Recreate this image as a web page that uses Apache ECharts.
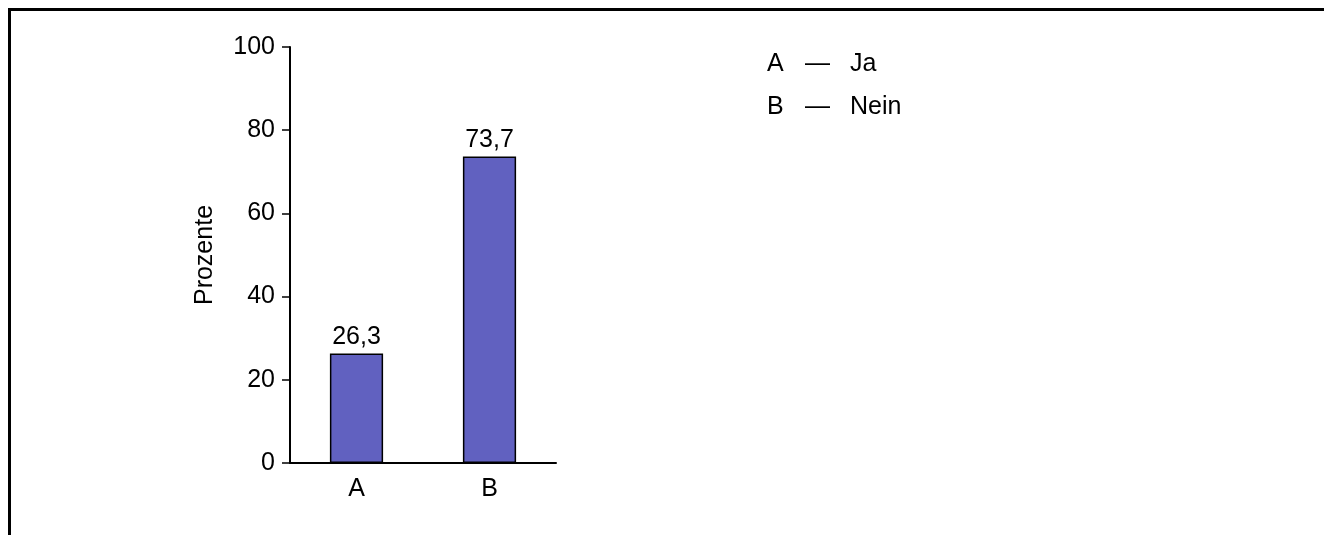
<!DOCTYPE html>
<html>
<head>
<meta charset="utf-8">
<script src="https://cdn.jsdelivr.net/npm/echarts@6/dist/echarts.min.js"></script>
<style>
  html, body { margin: 0; padding: 0; background: #ffffff; }
  #chart { width: 1324px; height: 535px; }
</style>
</head>
<body>
<div id="chart"></div>
<script>
// Answer codes, their meanings and the share of respondents (percent)
const categories = ['A', 'B'];
const meanings = ['Ja', 'Nein'];
const percents = [26.3, 73.7];
const yTicks = { min: 0, max: 100, interval: 20 };

const FONT = '"Liberation Sans", Arial, Helvetica, sans-serif';
const FS = 25;

const chart = echarts.init(document.getElementById('chart'), null, { renderer: 'canvas' });

// Key beside the plot: code — meaning
const keyItems = [];
categories.forEach((c, i) => {
  const y = 63 + i * 43;
  const base = { fontFamily: FONT, fontSize: FS, fill: '#000' };
  keyItems.push({ type: 'text', left: 767, top: y - 11, style: Object.assign({ text: c }, base) });
  keyItems.push({ type: 'text', left: 805, top: y - 11, style: Object.assign({ text: '\u2014' }, base) });
  keyItems.push({ type: 'text', left: 850, top: y - 11, style: Object.assign({ text: meanings[i] }, base) });
});

chart.setOption({
  animation: false,
  backgroundColor: '#ffffff',
  textStyle: { fontFamily: FONT, color: '#000' },
  grid: { left: 290, top: 47, width: 266, height: 416, containLabel: false },
  xAxis: {
    type: 'category',
    data: categories,
    axisLine: { show: true, lineStyle: { color: '#000', width: 2 } },
    axisTick: { show: false },
    axisLabel: { color: '#000', fontSize: FS, fontFamily: FONT, margin: 14 },
    splitLine: { show: false }
  },
  yAxis: {
    type: 'value',
    min: yTicks.min,
    max: yTicks.max,
    interval: yTicks.interval,
    name: 'Prozente',
    nameLocation: 'middle',
    nameGap: 72,
    nameTextStyle: { color: '#000', fontSize: FS, fontFamily: FONT },
    axisLine: { show: true, lineStyle: { color: '#000', width: 2 } },
    axisTick: { show: true, inside: false, length: 8, lineStyle: { color: '#000', width: 1.5 } },
    axisLabel: { color: '#000', fontSize: FS, fontFamily: FONT, margin: 15, padding: [4, 0, 0, 0] },
    splitLine: { show: false }
  },
  series: [{
    type: 'bar',
    data: percents,
    barWidth: '40%',
    itemStyle: { color: '#6161C0', borderColor: '#000', borderWidth: 1.5 },
    label: {
      show: true,
      position: 'top',
      distance: 4,
      color: '#000',
      fontSize: FS,
      fontFamily: FONT,
      formatter: p => String(p.value).replace('.', ',')
    }
  }],
  graphic: [
    {
      type: 'polyline',
      silent: true,
      shape: { points: [[9.5, 535], [9.5, 9.5], [1324, 9.5]] },
      style: { stroke: '#000', lineWidth: 3, fill: null }
    }
  ].concat(keyItems)
});
</script>
</body>
</html>
